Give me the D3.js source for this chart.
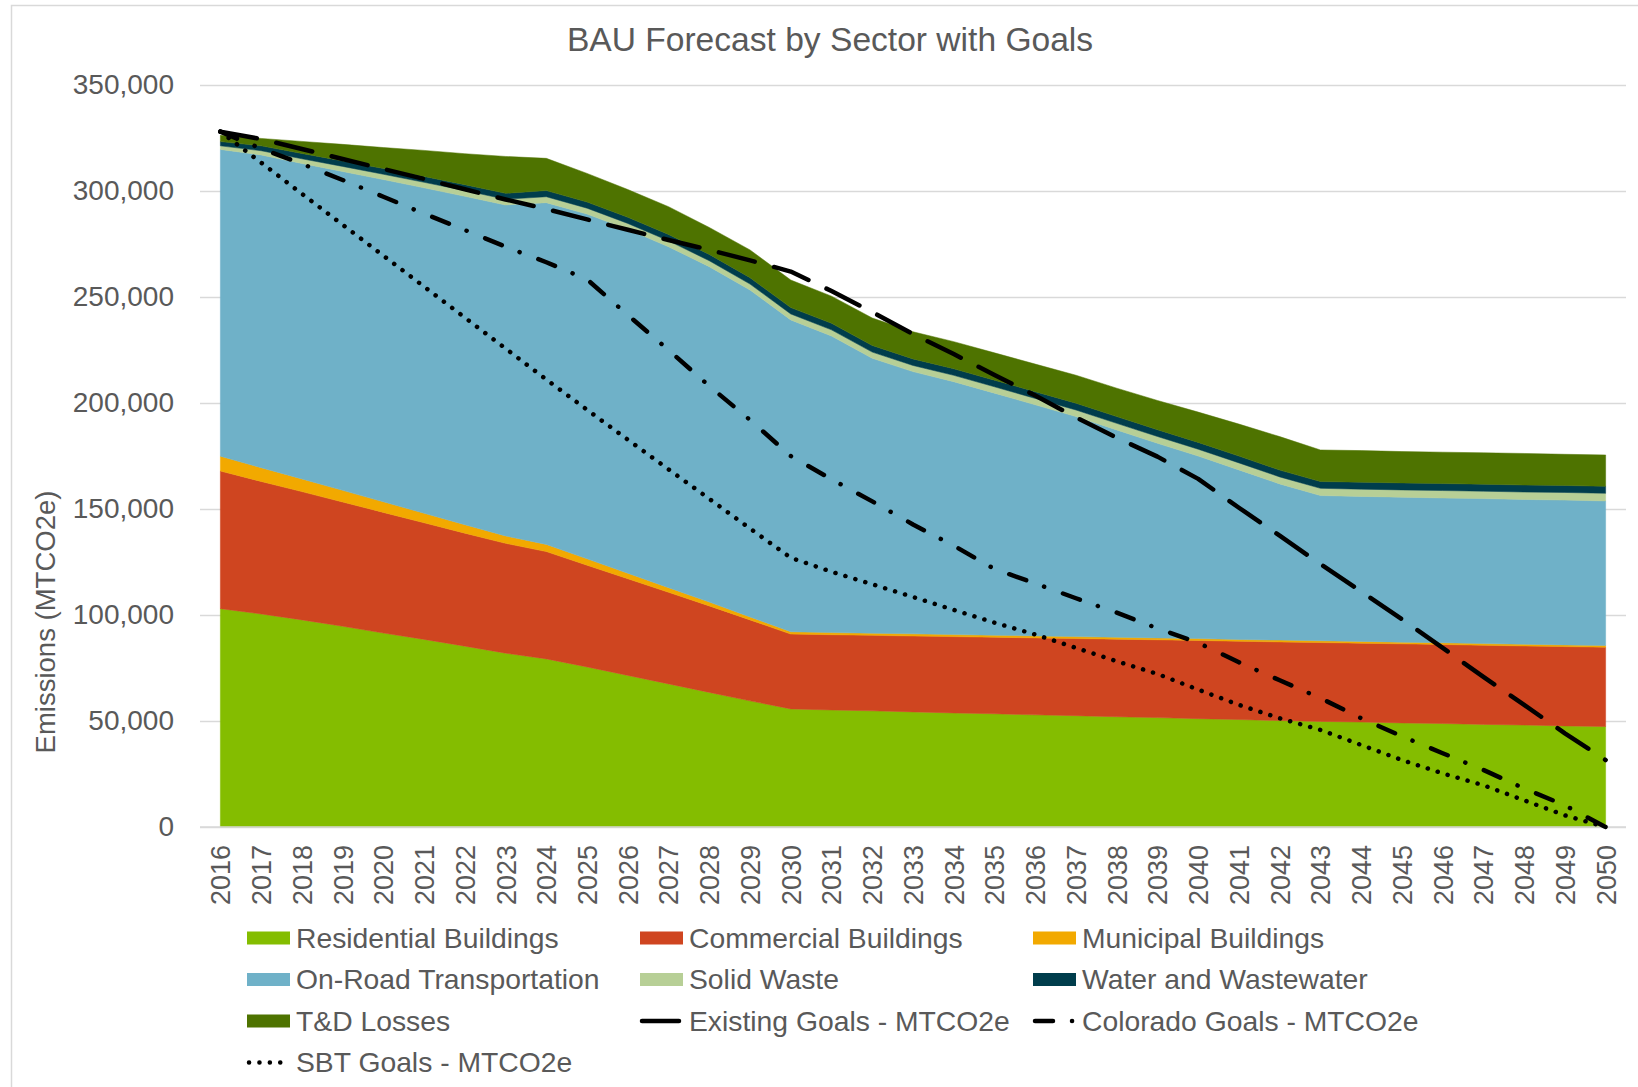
<!DOCTYPE html>
<html lang="en">
<head>
<meta charset="UTF-8">
<title>BAU Forecast by Sector with Goals</title>
<script src="https://d3js.org/d3.v7.min.js"></script>
<style>
    body { margin: 0; background: #fff; }
    text { font-family: "Liberation Sans", Arial, sans-serif; fill: #595959; }
</style>
</head>
<body>
<script>

// years on the category axis
var years = [2016, 2017, 2018, 2019, 2020, 2021, 2022, 2023, 2024, 2025, 2026, 2027,
    2028, 2029, 2030, 2031, 2032, 2033, 2034, 2035, 2036, 2037, 2038, 2039, 2040,
    2041, 2042, 2043, 2044, 2045, 2046, 2047, 2048, 2049, 2050];

// sector emissions (MTCO2e)
var residential = [103000, 100500, 97700, 94700, 91500, 88500, 85300, 82000, 79300, 75500,
    71500, 67500, 63500, 59500, 55700, 55200, 54800, 54300, 53800, 53400, 52900, 52500,
    52000, 51600, 51100, 50700, 50200, 49800, 49500, 49100, 48800, 48400, 48100, 47700, 47400];
var commercial = [64900, 62500, 60500, 58600, 56900, 55000, 53300, 51800, 50600, 48000,
    45600, 43200, 40800, 38200, 35300, 35500, 35600, 35800, 36000, 36100, 36300, 36400,
    36600, 36700, 36900, 36900, 37100, 37200, 37200, 37300, 37300, 37300, 37300, 37400, 37400];
var municipal = [7000, 6500, 6000, 5500, 5000, 4500, 4000, 3500, 3400, 3000, 2600, 2200,
    1800, 1400, 1100, 1000, 1000, 1000, 950, 950, 950, 900, 900, 900, 900, 850, 850, 850,
    850, 800, 800, 800, 800, 800, 800];
var transportation = [144700, 147500, 148800, 150400, 152000, 153500, 154900, 156100, 161200,
    162600, 162200, 160800, 158200, 154200, 147100, 139900, 129700, 123700, 119300, 114200,
    109000, 103800, 97800, 91800, 86100, 80000, 73700, 68500, 68400, 68400, 68300, 68400,
    68300, 68300, 68200];
var solidWaste = [1700, 2000, 2200, 2400, 2500, 2600, 2700, 2700, 2800, 2800, 2800, 2800,
    2800, 2800, 2800, 2900, 2900, 2900, 3000, 3000, 3000, 3100, 3100, 3200, 3200, 3300,
    3300, 3400, 3400, 3400, 3500, 3500, 3500, 3600, 3600];
var water = [2000, 2300, 2500, 2600, 2700, 2750, 2800, 2800, 2900, 2900, 2900, 3000, 3000,
    3000, 3000, 3100, 3100, 3100, 3100, 3100, 3200, 3200, 3200, 3200, 3200, 3200, 3200,
    3200, 3300, 3300, 3300, 3300, 3300, 3300, 3300];
var tdLosses = [3000, 3500, 5700, 7800, 9900, 12300, 14600, 17400, 15200, 13500, 13100,
    13100, 12700, 13100, 13000, 12800, 13000, 12800, 12800, 12900, 13000, 13200, 13400,
    13800, 14300, 15100, 15800, 14900, 14900, 14800, 14800, 14800, 14900, 14700, 14800];

// goal lines
var existingGoals = [328000, 324500, 319800, 315100, 310400, 305700, 300800, 296000, 291500,
    286600, 281700, 276900, 272200, 267300, 262000, 252800, 242900, 232500, 223100, 213200,
    203500, 193200, 183600, 174700, 164200, 150600, 137400, 124000, 111100, 98000, 84500,
    70800, 57600, 44200, 31600];
var coloradoGoals = [328000, 320000, 312800, 305200, 297300, 289300, 281600, 273700, 266400,
    258300, 241500, 225000, 208000, 192000, 175000, 164000, 153600, 142700, 132700, 121700,
    114900, 107900, 101100, 93700, 86900, 77700, 69200, 60800, 51300, 42800, 34800, 26900,
    18200, 10200, 0];
var sbtGoals = [328000, 313400, 298700, 284100, 269500, 254900, 240300, 225700, 211100,
    196800, 182700, 168700, 154800, 140800, 127000, 120400, 114500, 108500, 102400, 96400,
    90800, 84500, 78200, 72200, 64800, 57600, 51300, 45800, 38700, 31600, 25300, 19700,
    12600, 5500, 0];

var yTicks = [0, 50000, 100000, 150000, 200000, 250000, 300000, 350000];

var sectors = [
    { key: "Residential Buildings", values: residential, color: "#84bd00" },
    { key: "Commercial Buildings", values: commercial, color: "#cf4520" },
    { key: "Municipal Buildings", values: municipal, color: "#f2a900" },
    { key: "On-Road Transportation", values: transportation, color: "#6fb1c8" },
    { key: "Solid Waste", values: solidWaste, color: "#b7cf96" },
    { key: "Water and Wastewater", values: water, color: "#003d4c" },
    { key: "T&D Losses", values: tdLosses, color: "#4e7300" }
];
var goals = [
    { key: "Existing Goals - MTCO2e", values: existingGoals, dash: "37,20" },
    { key: "Colorado Goals - MTCO2e", values: coloradoGoals, dash: "18,19,0.1,20" },
    { key: "SBT Goals - MTCO2e", values: sbtGoals, dash: "0.1,10.3" }
];

// Set up SVG container
var width = 1638;
var height = 1087;
var plot = { left: 200, right: 1626, top: 85, bottom: 827 };

var svg = d3.select("body").append("svg")
    .attr("width", width)
    .attr("height", height);

// chart frame (right / bottom edges fall outside the picture)
svg.append("rect")
    .attr("x", 11.5).attr("y", 5.5)
    .attr("width", 1700).attr("height", 1200)
    .attr("fill", "none")
    .attr("stroke", "#d9d9d9")
    .attr("stroke-width", 1.5);

// scales
var x = d3.scalePoint().domain(years).range([plot.left, plot.right]).padding(0.5);
var y = d3.scaleLinear().domain([0, 350000]).range([plot.bottom, plot.top]);

// y axis with gridlines
var yAxis = svg.append("g")
    .attr("transform", "translate(" + plot.left + ",0)")
    .call(d3.axisLeft(y)
        .tickValues(yTicks)
        .tickSize(-(plot.right - plot.left))
        .tickPadding(26)
        .tickFormat(d3.format(",")));
yAxis.select(".domain").remove();
yAxis.selectAll(".tick line")
    .attr("stroke", "#d9d9d9")
    .attr("stroke-width", 1.5);
yAxis.selectAll(".tick text")
    .style("font-size", "28px")
    .attr("fill", "#595959");

// stacked areas
var rows = years.map(function (yr, i) {
    var r = { year: yr };
    sectors.forEach(function (s) { r[s.key] = s.values[i]; });
    return r;
});
var stack = d3.stack().keys(sectors.map(function (s) { return s.key; }));
var series = stack(rows);

var area = d3.area()
    .x(function (d) { return x(d.data.year); })
    .y0(function (d) { return y(d[0]); })
    .y1(function (d) { return y(d[1]); });

svg.append("g").selectAll("path")
    .data(series)
    .join("path")
    .attr("d", area)
    .attr("fill", function (d, i) { return sectors[i].color; })
    .attr("stroke", function (d, i) { return sectors[i].color; })
    .attr("stroke-width", 0.5);

// x axis
var xAxis = svg.append("g")
    .attr("transform", "translate(0," + plot.bottom + ")")
    .call(d3.axisBottom(x).tickSize(0));
xAxis.select(".domain")
    .attr("stroke", "#d9d9d9")
    .attr("stroke-width", 1.5)
    .attr("d", "M" + plot.left + ",0H" + plot.right);
xAxis.selectAll(".tick text")
    .attr("transform", "rotate(-90)")
    .attr("x", -18)
    .attr("y", 0)
    .attr("dy", "0.35em")
    .style("text-anchor", "end")
    .style("font-size", "27px")
    .attr("fill", "#595959");

// goal lines
var line = d3.line()
    .x(function (d, i) { return x(years[i]); })
    .y(function (d) { return y(d); });

svg.append("g").selectAll("path")
    .data(goals)
    .join("path")
    .attr("d", function (d) { return line(d.values); })
    .attr("fill", "none")
    .attr("stroke", "#000")
    .attr("stroke-width", 4.5)
    .attr("stroke-linecap", "round")
    .attr("stroke-linejoin", "round")
    .attr("stroke-dasharray", function (d) { return d.dash; });

// title and axis title
svg.append("text")
    .attr("x", 830).attr("y", 51)
    .attr("text-anchor", "middle")
    .style("font-size", "33.6px")
    .text("BAU Forecast by Sector with Goals");

svg.append("text")
    .attr("transform", "translate(55,622) rotate(-90)")
    .attr("text-anchor", "middle")
    .style("font-size", "27.5px")
    .text("Emissions (MTCO2e)");

// legend, three columns
var legendItems = sectors.map(function (s) { return { key: s.key, color: s.color }; })
    .concat(goals.map(function (g) { return { key: g.key, dash: g.dash }; }));
var colX = [247, 640, 1033];
var rowY = [938, 979.5, 1021, 1062.5];

var legend = svg.append("g").selectAll("g")
    .data(legendItems)
    .join("g")
    .attr("transform", function (d, i) {
        return "translate(" + colX[i % 3] + "," + rowY[Math.floor(i / 3)] + ")";
    });

legend.filter(function (d) { return d.color; })
    .append("rect")
    .attr("x", 0).attr("y", -6.5)
    .attr("width", 43).attr("height", 13)
    .attr("fill", function (d) { return d.color; });

legend.filter(function (d) { return d.dash; })
    .append("line")
    .attr("x1", 2).attr("x2", 43)
    .attr("y1", 0).attr("y2", 0)
    .attr("stroke", "#000")
    .attr("stroke-width", 4.5)
    .attr("stroke-linecap", "round")
    .attr("stroke-dasharray", function (d) { return d.dash; });

legend.append("text")
    .attr("x", 49)
    .attr("y", 0)
    .attr("dy", "0.35em")
    .style("font-size", "28.3px")
    .text(function (d) { return d.key; });

</script>
</body>
</html>
